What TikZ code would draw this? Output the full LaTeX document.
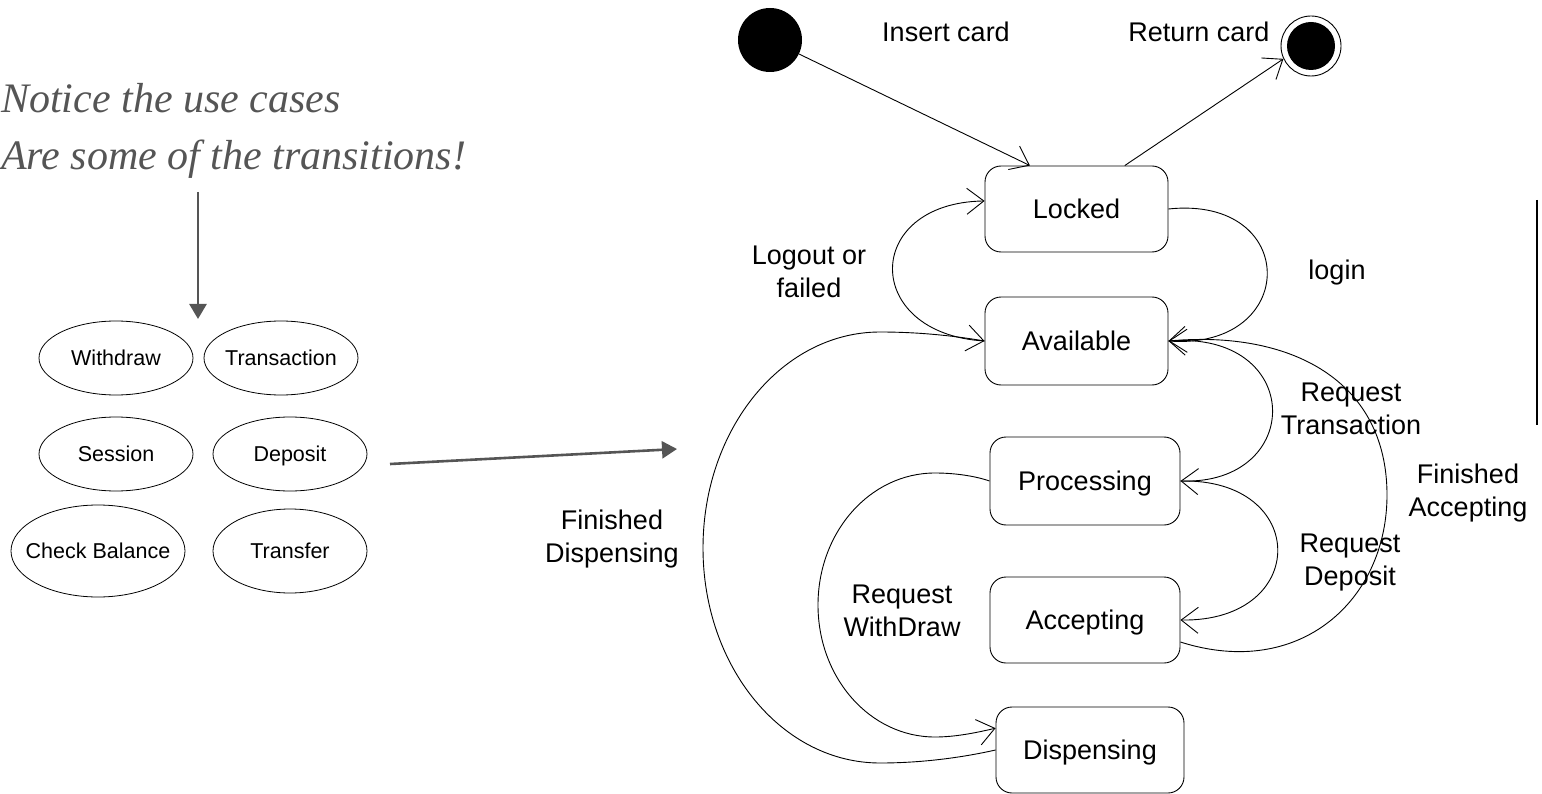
\documentclass[tikz,border=0pt]{standalone}
\usepackage{fontspec}
\setmainfont{Liberation Sans}
\newfontfamily\notefont{Liberation Serif}
\usetikzlibrary{arrows.meta}
\definecolor{notegray}{HTML}{555555}
\begin{document}
\begin{tikzpicture}[x=1pt,y=-1pt,
  state/.style={draw, line width=0.9pt, rounded corners=16pt, inner sep=0pt,
    text height=19.3pt, text depth=0pt, font=\fontsize{27}{33}\selectfont},
  lbl/.style={align=center, inner sep=0pt, font=\fontsize{27}{33}\selectfont},
  trans/.style={line width=0.9pt,
    -{Straight Barb[length=17pt,width=26pt,line width=0.9pt]}},
  uctext/.style={inner sep=0pt, text height=15.4pt, text depth=0pt,
    font=\fontsize{21.5}{26}\selectfont},
  ucline/.style={line width=0.8pt},
  note/.style={anchor=base west, inner sep=0pt, text=notegray,
    font=\notefont\itshape\fontsize{42}{50}\selectfont},
  pointer/.style={draw=notegray, line width=2.6pt,
    -{Triangle[length=15pt,width=17pt]}},
]
\useasboundingbox (0,0) rectangle (1542,794);

% ---------- note and use cases ----------
\node[note] (note1) at (1,113) {Notice the use cases};
\node[note] (note2) at (1,170) {Are some of the transitions!};
\coordinate (ptop) at (198,192);
\coordinate (pbot) at (198,319);
\draw[pointer] (ptop) -- (pbot);

\node[uctext] (ucwithdraw) at (116,358) {Withdraw};
\node[uctext] (uctrans)    at (281,358) {Transaction};
\node[uctext] (ucsession)  at (116,454) {Session};
\node[uctext] (ucdeposit)  at (290,454) {Deposit};
\node[uctext] (uccheck)    at (98,551)  {Check Balance};
\node[uctext] (uctransfer) at (290,551) {Transfer};
\draw[ucline] (ucwithdraw.center) ellipse [x radius=77pt, y radius=37pt];
\draw[ucline] (uctrans.center)    ellipse [x radius=77pt, y radius=37pt];
\draw[ucline] (ucsession.center)  ellipse [x radius=77pt, y radius=37pt];
\draw[ucline] (ucdeposit.center)  ellipse [x radius=77pt, y radius=37pt];
\draw[ucline] (uccheck.center)    ellipse [x radius=87pt, y radius=46pt];
\draw[ucline] (uctransfer.center) ellipse [x radius=77pt, y radius=42pt];

\coordinate (pstart) at (390,464);
\coordinate (pend) at (677,449);
\draw[pointer] (pstart) -- (pend);

% ---------- state machine ----------
\node[circle, fill, minimum size=64pt, inner sep=0pt] (init) at (770,40) {};
\node[circle, draw, line width=0.9pt, minimum size=60pt, inner sep=0pt] (final) at (1311,46) {};
\fill (final.center) circle (24pt);

\node[state, minimum width=183pt, minimum height=86pt] (locked)     at (1076.5,209) {Locked};
\node[state, minimum width=183pt, minimum height=88pt] (available)  at (1076.5,341) {Available};
\node[state, minimum width=190pt, minimum height=88pt] (processing) at (1085,481)   {Processing};
\node[state, minimum width=190pt, minimum height=86pt] (accepting)  at (1085,620)   {Accepting};
\node[state, minimum width=188pt, minimum height=86pt] (dispensing) at (1090,750)   {Dispensing};

\draw[trans] (init) -- (locked.137);
\draw[trans] (locked.42) -- (final.205);

% logout or failed
\draw[trans] (available.west) .. controls (862,334) and (862,203) .. (locked.175);
% login
\draw[trans] (locked.east) .. controls (1300,195) and (1300,350) .. (available.east);
% request transaction
\draw[trans] (available.east) .. controls (1305,330) and (1305,485) .. (processing.east);
% request deposit
\draw[trans] (processing.east) .. controls (1310,478) and (1310,622) .. (accepting.east);
% finished accepting
\draw[trans] (accepting.-13) .. controls (1300,680) and (1387,600) .. (1387,495)
  .. controls (1387,380) and (1290,330) .. (available.east);
% finished dispensing
\draw[trans] (dispensing.west) .. controls (960,758) and (920,763) .. (880,763)
  .. controls (782,763) and (703,667) .. (703,548)
  .. controls (703,429) and (782,332) .. (880,332)
  .. controls (920,332) and (955,336) .. (available.west);
% request withdraw
\draw[trans] (processing.west) .. controls (975,476) and (955,473) .. (935,473)
  .. controls (870,473) and (818,532) .. (818,605)
  .. controls (818,678) and (870,737) .. (935,737)
  .. controls (955,737) and (975,733) .. (dispensing.167);

% right-hand bar
\coordinate (bartop) at (1537,200);
\coordinate (barbot) at (1537,425);
\draw[line width=1.6pt] (bartop) -- (barbot);

% transition labels
\node[lbl] (linsert)  at (946,32)    {Insert card};
\node[lbl] (lreturn)  at (1199,32)   {Return card};
\node[lbl] (llogout)  at (809,272)   {Logout or\\failed};
\node[lbl] (llogin)   at (1337,273)  {login};
\node[lbl] (lreqtr)   at (1351,409)  {Request\\Transaction};
\node[lbl] (lfinacc)  at (1468,493)  {Finished\\Accepting};
\node[lbl] (lfindisp) at (612,539)   {Finished\\Dispensing};
\node[lbl] (lreqdep)  at (1350,563)  {Request\\Deposit};
\node[lbl] (lreqwd)   at (902,611)   {Request\\WithDraw};
\end{tikzpicture}
\end{document}
